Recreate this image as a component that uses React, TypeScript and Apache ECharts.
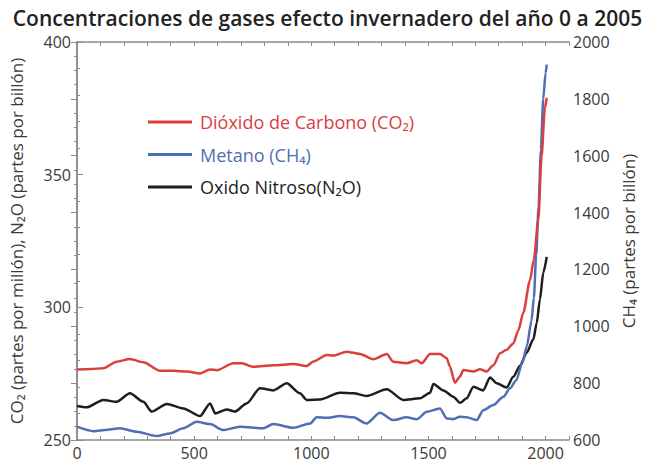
import React, { useEffect, useRef } from "react";
import * as echarts from "echarts";

const titleText = "Concentraciones de gases efecto invernadero del año 0 a 2005";
const leftAxisName = "CO₂ (partes por millón), N₂O (partes por billón)";
const rightAxisName = "CH₄ (partes por billón)";
const seriesNames = ["Dióxido de Carbono (CO₂)", "Metano (CH₄)", "Oxido Nitroso(N₂O)"];
const seriesColors = ["#d9403c", "#4f6fb4", "#1e1e1e"];

const co2Years = [0, 60, 112, 169, 226, 283, 354, 411, 470, 525, 568, 597, 667, 703, 753, 838, 923, 980, 1009, 1066, 1094, 1151, 1208, 1265, 1322, 1350, 1407, 1450, 1471, 1507, 1550, 1578, 1592, 1613, 1635, 1649, 1692, 1720, 1749, 1777, 1806, 1834, 1862, 1884, 1905, 1933, 1950, 1969, 1983, 1997, 2005];
const co2Values = [276.6, 276.8, 277, 279.5, 280.5, 279.3, 276.1, 276.1, 275.8, 275.1, 276.6, 276.3, 278.9, 278.9, 277.6, 278.2, 278.6, 277.9, 279.6, 282, 281.8, 283.3, 282.4, 280.4, 282.4, 279.5, 278.9, 280.1, 278.9, 282.4, 282.4, 280.8, 277.6, 271.6, 273.9, 276.4, 275.8, 276.7, 275.8, 278.2, 282.7, 284, 286.4, 291.4, 298, 310, 318, 333, 357, 375, 379];

const ch4Years = [0, 70, 130, 183, 254, 340, 397, 454, 511, 568, 624, 696, 795, 838, 923, 995, 1023, 1066, 1122, 1179, 1236, 1293, 1350, 1407, 1450, 1493, 1549, 1578, 1606, 1635, 1663, 1706, 1734, 1777, 1820, 1848, 1875, 1900, 1920, 1940, 1950, 1960, 1970, 1980, 1990, 2000, 2005];
const ch4Values = [647, 631, 636, 641, 629, 614, 623, 641, 664, 656, 635, 647, 641, 656, 643, 658, 680, 678, 684, 680, 658, 696, 670, 680, 673, 699, 711, 676, 673, 682, 680, 670, 705, 723, 752, 782, 810, 870, 930, 1020, 1100, 1250, 1420, 1620, 1800, 1890, 1920];

const n2oYears = [0, 41, 112, 169, 226, 283, 319, 383, 454, 525, 568, 590, 639, 674, 724, 781, 838, 895, 952, 980, 1037, 1122, 1180, 1236, 1322, 1393, 1464, 1507, 1521, 1564, 1606, 1635, 1663, 1692, 1734, 1763, 1791, 1834, 1862, 1891, 1920, 1948, 1962, 1976, 1990, 2005];
const n2oValues = [262.8, 262.3, 265.1, 264.4, 267.6, 264.4, 260.7, 263.6, 261.9, 259, 263.8, 260, 261.5, 260.7, 263.8, 269.5, 268.7, 271.4, 267.6, 265.1, 265.3, 267.8, 267.6, 266.6, 269.1, 265.1, 265.7, 267.8, 271.1, 268.7, 266.3, 264, 265.7, 270.1, 268.7, 273.6, 271.4, 269.8, 273.8, 278, 283, 288, 294, 303, 313, 319];

const FONT = "'Open Sans', 'DejaVu Sans', sans-serif";
const AXIS_COLOR = "#8a8a8a";
const LABEL_COLOR = "#3a3a3a";

function pairs(xs: number[], ys: number[]) {
  return xs.map((x, i) => [x, ys[i]]);
}

export default function App() {
  const ref = useRef<HTMLDivElement>(null);
  useEffect(() => {
    if (!ref.current) return;
    const chart = echarts.init(ref.current, undefined, { renderer: "svg" });
    const xCommon = {
      type: "value" as const,
      min: 0,
      max: 2100,
      interval: 100,
      splitLine: { show: false },
      axisLine: { show: true, lineStyle: { color: AXIS_COLOR, width: 1.5 } },
      axisTick: { show: true, inside: true, length: 4, lineStyle: { color: AXIS_COLOR } },
    };
    const line = (i: number, data: number[][], yAxisIndex: number) => ({
      type: "line" as const,
      name: seriesNames[i],
      data,
      yAxisIndex,
      symbol: "none",
      showSymbol: false,
      smooth: 0.25,
      smoothMonotone: "x",
      lineStyle: { color: seriesColors[i], width: 2.5 },
      itemStyle: { color: seriesColors[i] },
      z: 3 - i,
    });
    chart.setOption({
      animation: false,
      backgroundColor: "#ffffff",
      title: {
        text: titleText,
        left: "center",
        top: 2,
        textStyle: { fontFamily: FONT, fontSize: 21, fontWeight: 600, color: "#222" },
      },
      legend: {
        orient: "vertical",
        left: 143,
        top: 108,
        icon: "rect",
        itemWidth: 44,
        itemHeight: 3,
        itemGap: 14.5,
        textStyle: { fontFamily: FONT, fontSize: 18, padding: [0, 0, 0, 3] },
        data: seriesNames.map((n, i) => ({ name: n, textStyle: { color: seriesColors[i] } })),
      },
      grid: { left: 77, right: 86, top: 42, bottom: 24, containLabel: false },
      xAxis: [
        {
          ...xCommon,
          position: "bottom",
          axisLabel: {
            fontFamily: FONT,
            fontSize: 16,
            color: LABEL_COLOR,
            margin: 5,
            formatter: (v: number) => (v % 500 === 0 ? String(v) : ""),
          },
        },
        { ...xCommon, position: "top", axisLabel: { show: false } },
      ],
      yAxis: [
        {
          type: "value",
          min: 250,
          max: 400,
          interval: 50,
          position: "left",
          name: leftAxisName,
          nameLocation: "middle",
          nameGap: 52,
          nameTextStyle: { fontFamily: FONT, fontSize: 17, color: LABEL_COLOR },
          splitLine: { show: false },
          axisLine: { show: true, lineStyle: { color: AXIS_COLOR, width: 1.5 } },
          axisTick: { show: true, inside: true, length: 6, lineStyle: { color: AXIS_COLOR } },
          minorTick: { show: true, splitNumber: 5, length: 3, lineStyle: { color: AXIS_COLOR } },
          axisLabel: { fontFamily: FONT, fontSize: 16, color: LABEL_COLOR, margin: 6, formatter: (v: number) => String(v) },
        },
        {
          type: "value",
          min: 600,
          max: 2000,
          interval: 200,
          position: "right",
          name: rightAxisName,
          nameLocation: "middle",
          nameGap: 50,
          nameRotate: 90,
          nameTextStyle: { fontFamily: FONT, fontSize: 17, color: LABEL_COLOR },
          splitLine: { show: false },
          axisLine: { show: true, lineStyle: { color: AXIS_COLOR, width: 1.5 } },
          axisTick: { show: true, inside: true, length: 6, lineStyle: { color: AXIS_COLOR } },
          minorTick: { show: true, splitNumber: 4, length: 3, lineStyle: { color: AXIS_COLOR } },
          axisLabel: { fontFamily: FONT, fontSize: 16, color: LABEL_COLOR, margin: 4, formatter: (v: number) => String(v) },
        },
      ],
      series: [
        line(0, pairs(co2Years, co2Values), 0),
        line(1, pairs(ch4Years, ch4Values), 1),
        line(2, pairs(n2oYears, n2oValues), 0),
      ],
    });
    return () => chart.dispose();
  }, []);
  return (
    <div
      ref={ref}
      style={{ position: "fixed", left: 0, top: 0, width: 655, height: 464, background: "#fff" }}
    />
  );
}
